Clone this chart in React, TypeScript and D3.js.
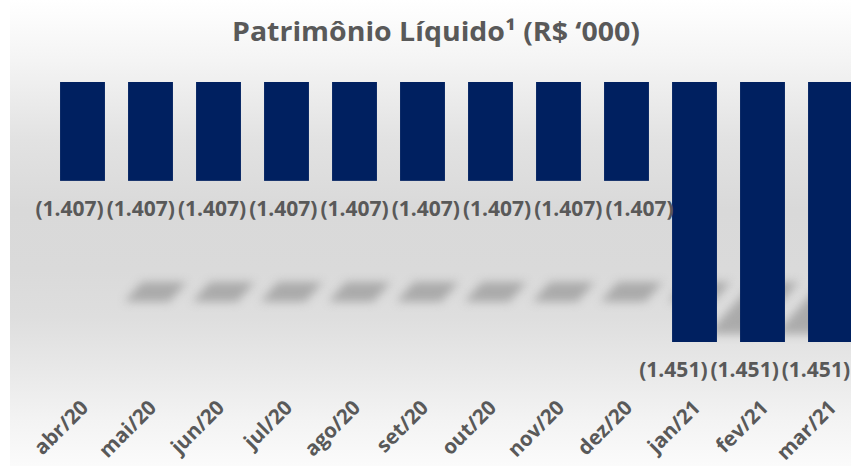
import React, { useEffect, useRef } from "react";
import * as d3 from "d3";

const categories = ["abr/20", "mai/20", "jun/20", "jul/20", "ago/20", "set/20", "out/20", "nov/20", "dez/20", "jan/21", "fev/21", "mar/21"];
const values = [-1407, -1407, -1407, -1407, -1407, -1407, -1407, -1407, -1407, -1451, -1451, -1451];
const axisTop = -1380;
const axisBottom = -1451;
const title = "Patrimônio Líquido¹ (R$ ‘000)";

const W = 851;
const H = 466;
const FONT = "'Open Sans', 'DejaVu Sans', sans-serif";
const GRAY = "#595959";
const BAR = "#002060";

const ptBR = d3.formatLocale({ decimal: ",", thousands: ".", grouping: [3], currency: ["R$", ""] });
const fmt = ptBR.format(",.0f");

export default function App() {
  const ref = useRef<SVGSVGElement | null>(null);

  useEffect(() => {
    const svg = d3.select(ref.current);
    svg.selectAll("*").remove();

    const x = d3.scaleBand<string>().domain(categories).range([48.5, 864.5]).paddingInner(0.34).paddingOuter(0.17);
    const y = d3.scaleLinear().domain([axisTop, axisBottom]).range([82, 342]);

    const defs = svg.append("defs");
    const grad = defs.append("linearGradient").attr("id", "bg").attr("x1", 0).attr("y1", 0).attr("x2", 0).attr("y2", 1);
    [
      [0, "#ffffff"], [0.13, "#f4f4f4"], [0.3, "#e2e2e2"], [0.45, "#d9d9d9"], [0.58, "#dadada"],
      [0.68, "#dedede"], [0.8, "#e9e9e9"], [0.9, "#f3f3f3"], [1, "#fbfbfb"],
    ].forEach(([o, c]) => grad.append("stop").attr("offset", o as number).attr("stop-color", c as string));
    const blur = defs.append("filter").attr("id", "blur").attr("x", "-50%").attr("y", "-50%").attr("width", "200%").attr("height", "200%");
    blur.append("feGaussianBlur").attr("stdDeviation", 5);

    svg.append("rect").attr("x", 0).attr("y", 0).attr("width", W).attr("height", H).attr("fill", "#ffffff");
    svg.append("rect").attr("x", 10).attr("y", 0).attr("width", W - 10).attr("height", H).attr("fill", "url(#bg)");

    // title
    svg.append("text").attr("x", 436).attr("y", 41).attr("text-anchor", "middle")
      .attr("font-family", FONT).attr("font-weight", 700).attr("font-size", 27).attr("fill", GRAY)
      .attr("textLength", 408).attr("lengthAdjust", "spacingAndGlyphs")
      .text(title);

    // perspective shadows
    const y0 = y(axisTop);
    const bw = x.bandwidth();
    const shadowG = svg.append("g").attr("filter", "url(#blur)").attr("opacity", 0.8);
    categories.forEach((c, i) => {
      const h = y(values[i]) - y0;
      const left = x(c)!;
      const topY = y0 + 200;
      const botY = topY + 0.2 * h;
      const topOff = 82;
      const botOff = 82 - 0.18 * h;
      const pts: [number, number][] = [
        [left + topOff, topY],
        [left + topOff + bw, topY],
        [left + botOff + bw, botY],
        [left + botOff, botY],
      ];
      shadowG.append("path").attr("d", d3.line()(pts)! + "Z").attr("fill", "#9e9e9e");
    });

    // bars
    svg.append("g").selectAll("rect").data(categories).join("rect")
      .attr("x", (c) => x(c)!)
      .attr("y", y0)
      .attr("width", bw)
      .attr("height", (_, i) => y(values[i]) - y0)
      .attr("fill", BAR);

    // value labels
    const lg = svg.append("g").attr("font-family", FONT).attr("font-weight", 700).attr("font-size", 21).attr("fill", GRAY).attr("text-anchor", "middle");
    const labels = categories.map((c, i) => {
      const t = lg.append("text").attr("y", y(values[i]) + 35).text(`(${fmt(Math.abs(values[i]))})`);
      const w = (t.node() as SVGTextElement).getComputedTextLength();
      return { t, cx: x(c)! + bw / 2, w, row: values[i] };
    });
    const gap = 3;
    const rows = d3.group(labels, (l) => l.row);
    rows.forEach((items) => {
      type Block = { items: typeof items; left: number; width: number };
      const offsets = (b: Block) => {
        let acc = 0;
        return b.items.map((it) => { const o = acc + it.w / 2; acc += it.w + gap; return o; });
      };
      const place = (b: Block) => {
        const offs = offsets(b);
        b.width = d3.sum(b.items, (it) => it.w) + gap * (b.items.length - 1);
        b.left = d3.mean(b.items, (it, k) => it.cx - offs[k])!;
        b.left = Math.max(11, Math.min(W - 1 - b.width, b.left));
      };
      let blocks: Block[] = items.map((it) => { const b = { items: [it], left: 0, width: 0 }; place(b); return b; });
      let merged = true;
      while (merged) {
        merged = false;
        for (let k = 0; k < blocks.length - 1; k++) {
          const a = blocks[k], b = blocks[k + 1];
          if (a.left + a.width + gap > b.left) {
            const nb = { items: [...a.items, ...b.items], left: 0, width: 0 };
            place(nb);
            blocks.splice(k, 2, nb);
            merged = true;
            break;
          }
        }
      }
      blocks.forEach((b) => {
        const offs = offsets(b);
        b.items.forEach((it, k) => it.t.attr("x", b.left + offs[k]));
      });
    });

    // category labels
    const tg = svg.append("g").attr("font-family", FONT).attr("font-weight", 700).attr("font-size", 20.5).attr("fill", GRAY).attr("text-anchor", "end");
    categories.forEach((c) => {
      const cx = x(c)! + bw / 2 + 7;
      tg.append("text").attr("transform", `translate(${cx},409) rotate(-45)`).text(c);
    });
  }, []);

  return (
    <svg ref={ref} width={W} height={H} style={{ position: "absolute", left: 0, top: 0, display: "block" }} />
  );
}
